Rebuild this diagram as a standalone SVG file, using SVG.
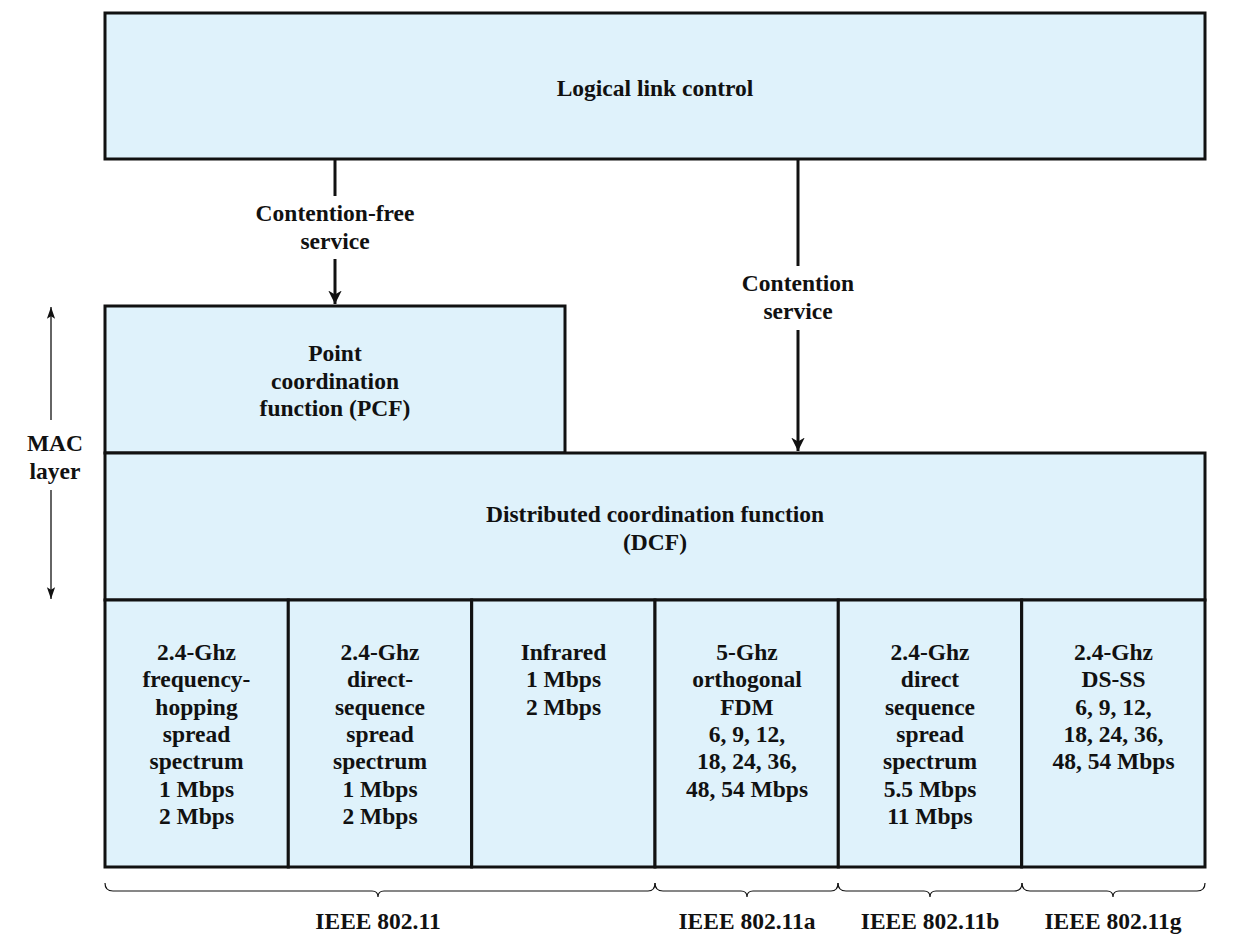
<svg xmlns="http://www.w3.org/2000/svg" width="1234" height="945" viewBox="0 0 1234 945">
<defs>
<style>
.box{fill:#dff2fb;stroke:#111;stroke-width:3}
.ln{stroke:#111;stroke-width:3;fill:none}
.thin{stroke:#111;stroke-width:1.3;fill:none}
.br{stroke:#111;stroke-width:1.2;fill:none}
</style>
<marker id="ah" viewBox="0 0 10 10" refX="10" refY="5" markerWidth="4.5" markerHeight="4.5" orient="auto" markerUnits="strokeWidth">
<path d="M0,0 L10,5 L0,10 L3,5 z" fill="#111"/>
</marker>
<marker id="ahs" viewBox="0 0 10 10" refX="10" refY="5" markerWidth="9" markerHeight="9" orient="auto" markerUnits="strokeWidth">
<path d="M0,1.5 L10,5 L0,8.5 L2,5 z" fill="#111"/>
</marker>
</defs>
<rect width="1234" height="945" fill="#fff"/>
<g font-family="Liberation Serif, DejaVu Serif, Times New Roman, serif" font-weight="bold" font-size="23.5" fill="#111" text-anchor="middle">
<g id="llc"><rect class="box" x="105" y="13" width="1100" height="146"/><text x="655" y="96">Logical link control</text></g>
<g id="pcf"><rect class="box" x="105" y="306" width="460" height="147"/><text x="335" y="361">Point</text><text x="335" y="389">coordination</text><text x="335" y="416">function (PCF)</text></g>
<g id="dcf"><rect class="box" x="105" y="453" width="1100" height="147"/><text x="655" y="522">Distributed coordination function</text><text x="655" y="550">(DCF)</text></g>
<g id="fhss"><rect class="box" x="105" y="600" width="183.3" height="267"/><text x="196.5" y="660">2.4-Ghz</text><text x="196.5" y="687">frequency-</text><text x="196.5" y="715">hopping</text><text x="196.5" y="742">spread</text><text x="196.5" y="769">spectrum</text><text x="196.5" y="797">1 Mbps</text><text x="196.5" y="824">2 Mbps</text></g>
<g id="dsss"><rect class="box" x="288.3" y="600" width="183.3" height="267"/><text x="380" y="660">2.4-Ghz</text><text x="380" y="687">direct-</text><text x="380" y="715">sequence</text><text x="380" y="742">spread</text><text x="380" y="769">spectrum</text><text x="380" y="797">1 Mbps</text><text x="380" y="824">2 Mbps</text></g>
<g id="ir"><rect class="box" x="471.7" y="600" width="183.3" height="267"/><text x="563.5" y="660">Infrared</text><text x="563.5" y="687">1 Mbps</text><text x="563.5" y="715">2 Mbps</text></g>
<g id="ofdm"><rect class="box" x="655" y="600" width="183.3" height="267"/><text x="747" y="660">5-Ghz</text><text x="747" y="687">orthogonal</text><text x="747" y="715">FDM</text><text x="747" y="742">6, 9, 12,</text><text x="747" y="769">18, 24, 36,</text><text x="747" y="797">48, 54 Mbps</text></g>
<g id="dsss-b"><rect class="box" x="838.3" y="600" width="183.3" height="267"/><text x="930" y="660">2.4-Ghz</text><text x="930" y="687">direct</text><text x="930" y="715">sequence</text><text x="930" y="742">spread</text><text x="930" y="769">spectrum</text><text x="930" y="797">5.5 Mbps</text><text x="930" y="824">11 Mbps</text></g>
<g id="dsss-g"><rect class="box" x="1021.7" y="600" width="183.3" height="267"/><text x="1113.5" y="660">2.4-Ghz</text><text x="1113.5" y="687">DS-SS</text><text x="1113.5" y="715">6, 9, 12,</text><text x="1113.5" y="742">18, 24, 36,</text><text x="1113.5" y="769">48, 54 Mbps</text></g>
<g id="connectors">
<line class="ln" x1="335" y1="159" x2="335" y2="196"/>
<line class="ln" x1="335" y1="259" x2="335" y2="304" marker-end="url(#ah)"/>
<text x="335" y="221">Contention-free</text><text x="335" y="249">service</text>
<line class="ln" x1="798" y1="159" x2="798" y2="266"/>
<line class="ln" x1="798" y1="330" x2="798" y2="451" marker-end="url(#ah)"/>
<text x="798" y="291">Contention</text><text x="798" y="319">service</text>
</g>
<g id="mac">
<line class="thin" x1="51" y1="420" x2="51" y2="307" marker-end="url(#ahs)"/>
<line class="thin" x1="51" y1="490" x2="51" y2="599" marker-end="url(#ahs)"/>
<text x="55" y="451">MAC</text><text x="55" y="479">layer</text>
</g>
<g id="braces">
<path class="br" d="M105,883 Q105,891 113,891 L372,891 Q378,891 378,897 Q378,891 384,891 L648,891 Q655,891 655,883"/>
<path class="br" d="M655,883 Q655,891 663,891 L741,891 Q747,891 747,897 Q747,891 753,891 L831,891 Q838,891 838,883"/>
<path class="br" d="M838,883 Q838,891 846,891 L924,891 Q930,891 930,897 Q930,891 936,891 L1014,891 Q1022,891 1022,883"/>
<path class="br" d="M1022,883 Q1022,891 1030,891 L1107,891 Q1113,891 1113,897 Q1113,891 1119,891 L1197,891 Q1205,891 1205,883"/>
<text x="378" y="929">IEEE 802.11</text>
<text x="747" y="929">IEEE 802.11a</text>
<text x="930" y="929">IEEE 802.11b</text>
<text x="1113" y="929">IEEE 802.11g</text>
</g>
</g>
</svg>
